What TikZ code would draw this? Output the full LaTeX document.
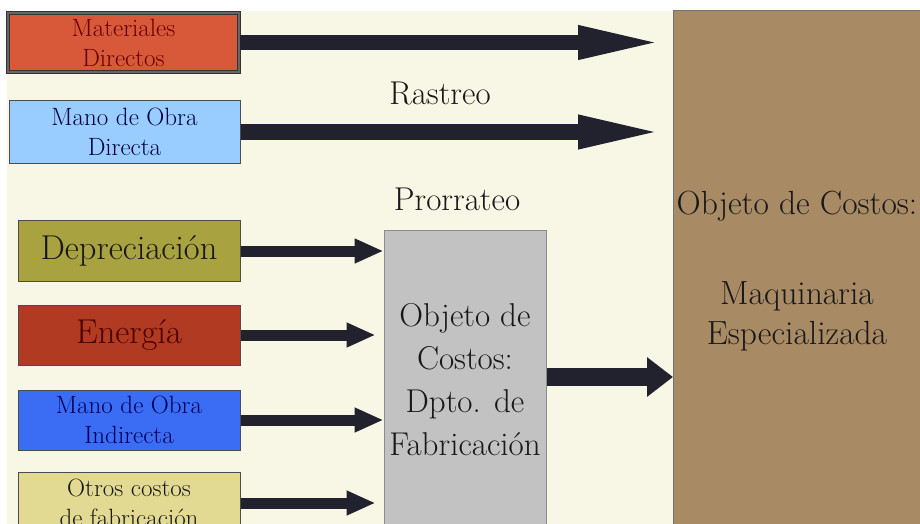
\documentclass[tikz,border=0pt]{standalone}
\usetikzlibrary{arrows.meta}

\definecolor{crema}{HTML}{F8F6E4}
\definecolor{cafe}{HTML}{A88A64}
\definecolor{gris}{HTML}{C2C2C2}
\definecolor{tinta}{HTML}{22222F}
\definecolor{rojizo}{HTML}{D8583A}
\definecolor{celeste}{HTML}{99CCFF}
\definecolor{oliva}{HTML}{A9A241}
\definecolor{ladrillo}{HTML}{B03A22}
\definecolor{azul}{HTML}{3A6CF4}
\definecolor{caqui}{HTML}{E2DA92}

\begin{document}
\begin{tikzpicture}[x=1pt,y=1pt,yscale=-1,xscale=1,
  caja/.style={rectangle,inner sep=0pt,align=center,line width=1pt},
  chico/.style={font=\fontsize{25}{30}\selectfont},
  grande/.style={font=\fontsize{33}{43}\selectfont},
  flechaL/.style={color=tinta,line width=15pt,-{Triangle[length=87pt,width=30pt]}},
  flechaC/.style={color=tinta,line width=11pt,-{Triangle[length=29pt,width=23pt]}},
  flechaM/.style={color=tinta,line width=18pt,-{Triangle[length=26pt,width=38pt]}}]
\useasboundingbox (0,0) rectangle (920,524);

%fondo
\fill [white] (0,0) rectangle (920,524);
\fill [crema] (7,11) rectangle (920,524);

%Objetos de costos
\node [caja,draw=black!55,fill=cafe,minimum width=247,minimum height=520,
  font=\fontsize{33.5}{40}\selectfont,text=black!90] (maq) at (797,271)
  {Objeto de Costos:\\[50pt]Maquinaria\\Especializada};
\node [caja,draw=black!45,fill=gris,minimum width=162,minimum height=300,
  grande,text=black!90] (dpto) at (465,380)
  {Objeto de\\Costos:\\Dpto. de\\Fabricación};

%Costos directos
\node [caja,draw=black!80,double=black!60,double distance=1.2pt,fill=rojizo,
  minimum width=231,minimum height=59,chico,text=red!40!black] (mat) at (123.5,42.5)
  {Materiales\\Directos};
\node [caja,draw=black!70,fill=celeste,minimum width=231,minimum height=62,
  chico,text=blue!25!black] (mod) at (124.5,132) {Mano de Obra\\Directa};

%Costos indirectos
\node [caja,draw=black!70,fill=oliva,minimum width=222,minimum height=61,
  font=\fontsize{34.5}{38}\selectfont,text=black!90] (dep) at (129,251) {Depreciación};
\node [caja,draw=black!70,fill=ladrillo,minimum width=222,minimum height=60,
  font=\fontsize{34.5}{38}\selectfont,text=red!30!black] (ene) at (129,335) {Energía};
\node [caja,draw=black!70,fill=azul,minimum width=222,minimum height=60,
  chico,text=blue!35!black] (moi) at (129,420) {Mano de Obra\\Indirecta};
\node [caja,draw=black!70,fill=caqui,minimum width=222,minimum height=62,
  chico,text=black!90] (otros) at (129,503) {Otros costos\\de fabricación};

% Text Node
\node [anchor=base,grande,text=black!90] (ras) at (440,105) {Rastreo};
% Text Node
\node [anchor=base,grande,text=black!90] (pro) at (457,210) {Prorrateo};

%Flechas
\draw [flechaL,shorten >=8pt] (mat.east) -- (mat.east -| maq.west);
\draw [flechaL,shorten >=8pt] (mod.east) -- (mod.east -| maq.west);
\draw [flechaC] (dep.east) -- (dep.east -| dpto.west);
\draw [flechaC,shorten >=8pt] (ene.east) -- (ene.east -| dpto.west);
\draw [flechaC] (moi.east) -- (moi.east -| dpto.west);
\draw [flechaC,shorten >=8pt] (otros.east) -- (otros.east -| dpto.west);
\draw [flechaM] (dpto.east |- 0,377) -- (maq.west |- 0,377);

\end{tikzpicture}
\end{document}
